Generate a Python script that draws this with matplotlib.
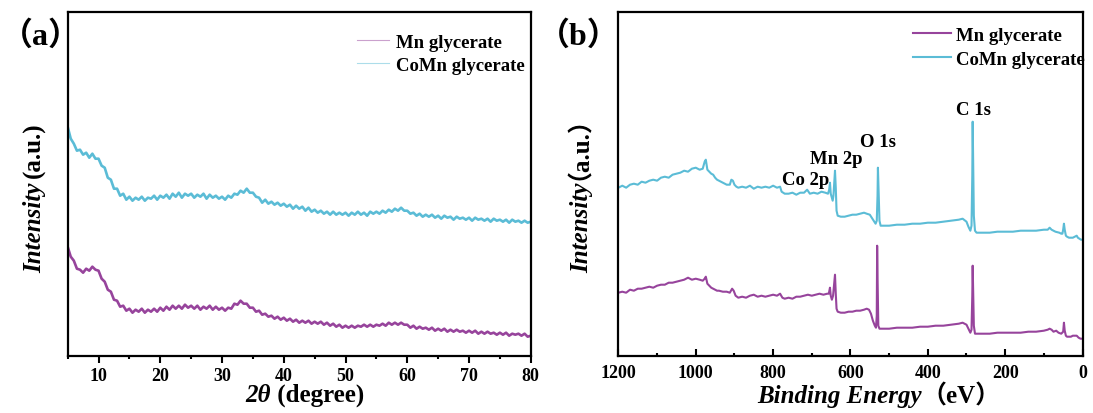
import numpy as np
import matplotlib
matplotlib.use("Agg")
import matplotlib.pyplot as plt
from matplotlib.lines import Line2D
from matplotlib.ticker import MultipleLocator

plt.rcParams["font.family"] = ["Liberation Serif", "Noto Sans CJK SC"]
plt.rcParams["font.weight"] = "bold"

PURPLE = "#97449c"
CYAN = "#5bbcd6"

# ---- (a) XRD, 2theta from 5 to 80 in 0.5 deg steps ----
two_theta = np.arange(5, 80.01, 0.5)

xrd_comn = [
    229, 217, 212, 205, 206, 201, 203, 198, 202, 197,
    197, 190, 188, 178, 176, 167, 167, 160, 162, 156,
    159, 155, 158, 156, 159, 155, 158, 157, 160, 156,
    160, 158, 161, 157, 162, 159, 163, 158, 162, 160,
    162, 158, 161, 159, 162, 157, 161, 158, 160, 157,
    159, 156, 160, 158, 162, 161, 165, 163, 167, 163,
    163, 159, 158, 153, 156, 152, 154, 151, 153, 150,
    152, 149, 151, 147, 150, 147, 149, 145, 148, 144,
    146, 143, 145, 142, 144, 141, 144, 141, 143, 141,
    143, 140, 143, 141, 144, 141, 143, 140, 144, 142,
    144, 142, 145, 143, 146, 144, 147, 145, 148, 145,
    145, 142, 143, 140, 142, 139, 141, 139, 141, 138,
    140, 137, 140, 138, 139, 136, 139, 137, 138, 136,
    138, 135, 138, 136, 137, 135, 137, 134, 137, 135,
    136, 134, 136, 133, 136, 134, 135, 133, 135, 133,
    134,
]

xrd_mn = [
    109, 99, 95, 87, 86, 83, 87, 85, 89, 86,
    85, 77, 74, 66, 64, 56, 55, 49, 50, 45,
    47, 43, 46, 44, 47, 43, 46, 44, 47, 44,
    48, 45, 49, 46, 50, 47, 50, 47, 51, 48,
    50, 47, 50, 46, 49, 47, 50, 46, 49, 46,
    48, 45, 48, 47, 52, 51, 55, 52, 52, 48,
    48, 44, 45, 41, 42, 39, 40, 37, 39, 36,
    38, 35, 37, 34, 36, 33, 35, 33, 35, 32,
    34, 32, 34, 31, 33, 30, 32, 29, 31, 28,
    30, 28, 30, 28, 30, 29, 31, 29, 31, 29,
    31, 30, 32, 30, 33, 31, 33, 31, 33, 31,
    31, 28, 30, 27, 29, 27, 28, 26, 28, 25,
    27, 25, 27, 24, 26, 24, 26, 24, 25, 23,
    25, 23, 25, 22, 24, 22, 24, 22, 23, 21,
    23, 21, 23, 20, 22, 21, 22, 20, 22, 19,
    20,
]

# ---- (b) XPS survey ----
be_comn = [1200, 1190, 1180, 1170, 1160, 1150, 1140, 1130, 1120, 1110, 1100, 1090, 1080, 1070,
           1060, 1050, 1040, 1030, 1020, 1010, 1000, 990, 982, 977, 974, 970, 965, 960, 955,
           950, 945, 940, 935, 930, 925, 920, 912, 908, 904, 900, 895, 890, 880, 870, 860,
           850, 840, 830, 820, 810, 800, 790, 782, 778, 770, 760, 750, 740, 730, 720, 712,
           705, 695, 685, 675, 665, 658, 655, 653, 651, 648, 646, 644, 642, 640, 638, 636,
           633, 625, 615, 605, 595, 585, 575, 565, 558, 550, 545, 540, 535, 532, 530, 529,
           527, 525, 522, 515, 500, 480, 460, 440, 420, 400, 380, 360, 340, 320, 310, 300,
           295, 290, 287, 285, 284, 283, 281, 278, 274, 260, 240, 220, 200, 180, 160, 140,
           120, 100, 90, 85, 80, 70, 60, 55, 52, 50, 48, 46, 43, 40, 35, 30, 25, 20, 15, 12,
           8, 4, 0]
xps_comn = [168, 170, 168, 171, 172, 171, 174, 173, 175, 176, 175, 178, 179, 178,
            181, 182, 183, 185, 184, 187, 188, 186, 187, 194, 196, 186, 184, 182, 181,
            178, 176, 175, 174, 173, 172, 171, 171, 176, 175, 171, 169, 168, 169, 168, 170,
            167, 169, 168, 169, 168, 170, 168, 169, 164, 162, 162, 163, 161, 163, 163, 166,
            162, 163, 162, 164, 163, 162, 166, 173, 162, 158, 155, 160, 173, 185, 168, 145,
            140, 139, 139, 140, 141, 141, 142, 143, 142, 141, 138, 135, 132, 135, 160, 188,
            160, 135, 130, 130, 130, 131, 131, 132, 132, 133, 133, 134, 135, 136, 137, 134,
            129, 125, 130, 180, 234, 200, 140, 125, 123, 123, 123, 124, 124, 124, 125, 125,
            125, 126, 126, 128, 126, 124, 123, 122, 122, 126, 132, 126, 120, 119, 118, 118, 118, 119, 120, 118,
            117, 116, 116]

be_mn = [1200, 1190, 1180, 1170, 1160, 1150, 1140, 1130, 1120, 1110, 1100, 1090, 1080, 1070,
         1060, 1050, 1040, 1030, 1020, 1010, 1000, 990, 982, 977, 974, 970, 965, 960, 955,
         950, 945, 940, 930, 920, 912, 906, 902, 897, 890, 880, 870, 860, 850, 840, 830,
         820, 810, 800, 790, 782, 776, 770, 760, 750, 740, 730, 720, 710, 700, 690, 680,
         670, 660, 656, 653, 651, 648, 645, 642, 640, 638, 636, 633, 625, 615, 605, 595,
         585, 575, 565, 558, 552, 547, 542, 537, 534, 532, 531, 530, 528, 525, 515, 500,
         480, 460, 440, 420, 400, 380, 360, 340, 320, 310, 300, 295, 290, 287, 285, 284,
         283, 281, 278, 274, 260, 240, 220, 200, 180, 160, 140, 120, 100, 90, 85, 80, 75,
         68, 62, 55, 50, 48, 46, 43, 40, 35, 30, 25, 20, 15, 10, 5, 0]
xps_mn = [63, 64, 63, 66, 65, 67, 67, 68, 69, 68, 70, 71, 71, 73,
          73, 74, 75, 76, 78, 76, 77, 76, 75, 77, 79, 72, 70, 68, 67,
          66, 65, 65, 64, 64, 63, 67, 65, 60, 58, 59, 58, 60, 61, 59, 60,
          59, 60, 61, 60, 62, 58, 57, 58, 57, 59, 59, 60, 61, 60, 61, 62,
          61, 62, 62, 68, 60, 56, 60, 72, 81, 62, 47, 44, 43, 43, 44, 44,
          45, 45, 46, 47, 46, 42, 35, 30, 28, 40, 110, 80, 30, 27, 27, 27,
          28, 28, 28, 29, 29, 30, 30, 31, 32, 33, 31, 27, 23, 26, 60, 90,
          70, 30, 22, 22, 22, 22, 23, 23, 23, 23, 24, 24, 25, 26, 27, 26, 24,
          25, 23, 22, 24, 33, 25, 20, 19, 19, 19, 20, 20, 20, 18, 17, 17]

peak_labels = ["Co 2p", "Mn 2p", "O 1s", "C 1s"]
peak_be = [715, 637, 529, 283]
peak_y = [176, 197, 214, 246]

fig = plt.figure(figsize=(10.93, 4.14), dpi=100)
ax1 = fig.add_axes([0.0619, 0.1384, 0.4237, 0.8295])
ax2 = fig.add_axes([0.5658, 0.1384, 0.4246, 0.8295])

ax1.plot(two_theta, xrd_mn, color=PURPLE, lw=1.9)
ax1.plot(two_theta, xrd_comn, color=CYAN, lw=1.9)
ax1.set_xlim(5, 80)
ax1.set_ylim(0, 343.4)

ax2.plot(be_mn, xps_mn, color=PURPLE, lw=1.5)
ax2.plot(be_comn, xps_comn, color=CYAN, lw=1.5)
ax2.set_xlim(1200, 0)
ax2.set_ylim(0, 343.4)

for ax in (ax1, ax2):
    for s in ax.spines.values():
        s.set_linewidth(1.6)
    ax.tick_params(axis="y", left=False, labelleft=False)
    ax.tick_params(axis="x", which="both", width=1.5, labelsize=13, pad=3)
    ax.tick_params(axis="x", which="major", length=5)
    ax.tick_params(axis="x", which="minor", length=2.5)

ax1.xaxis.set_major_locator(MultipleLocator(10))
ax1.xaxis.set_minor_locator(MultipleLocator(5))
ax1.tick_params(axis="x", which="both", direction="out")
ax2.xaxis.set_major_locator(MultipleLocator(200))
ax2.xaxis.set_minor_locator(MultipleLocator(100))
ax2.tick_params(axis="x", which="both", direction="in", pad=6)

leg_font = {"weight": "bold", "size": 13.5}
h1 = [Line2D([], [], color=PURPLE, lw=0.8, alpha=0.5), Line2D([], [], color=CYAN, lw=0.8, alpha=0.5)]
ax1.legend(h1, ["Mn glycerate", "CoMn glycerate"], loc="upper left", bbox_to_anchor=(0.625, 0.937),
           frameon=False, borderpad=0, borderaxespad=0, handlelength=1.7, handletextpad=0.4,
           labelspacing=0.3, prop=leg_font)
h2 = [Line2D([], [], color=PURPLE, lw=1.5), Line2D([], [], color=CYAN, lw=1.5)]
ax2.legend(h2, ["Mn glycerate", "CoMn glycerate"], loc="upper left", bbox_to_anchor=(0.635, 0.958),
           frameon=False, borderpad=0, borderaxespad=0, handlelength=2.0, handletextpad=0.3,
           labelspacing=0.35, prop=leg_font)

for lab, xb, yb in zip(peak_labels, peak_be, peak_y):
    ax2.text(xb, yb, lab, ha="center", va="center", fontsize=13.5, weight="bold")


def xlabel2(ax, x0, y0, first, second, size, dx=0, dy=0):
    t1 = ax.text(x0, y0, first, transform=ax.transAxes, ha="left", va="baseline",
                 style="italic", weight="bold", fontsize=size)
    ax.annotate(second, xy=(1.0, y0), xycoords=(t1, "axes fraction"), xytext=(dx, dy),
                textcoords="offset points", ha="left", va="baseline",
                weight="bold", fontsize=size, annotation_clip=False)


def ylabel2(ax, x0, y0, first, second, size, dx=0, dy=0):
    # rotated text: the second part is nudged by hand (dx, dy in points)
    t1 = ax.text(x0, y0, first, transform=ax.transAxes, ha="left", va="baseline", rotation=90,
                 rotation_mode="anchor", style="italic", weight="bold", fontsize=size)
    ax.annotate(second, xy=(x0, 1.0), xycoords=("axes fraction", t1), xytext=(dx, dy),
                textcoords="offset points", ha="left", va="baseline",
                rotation=90, rotation_mode="anchor", weight="bold", fontsize=size,
                annotation_clip=False)


xlabel2(ax1, 0.383, -0.132, "2θ", " (degree)", 18)
ylabel2(ax1, -0.058, 0.244, "Intensity", "(a.u.)", 18, dx=0, dy=3.5)
xlabel2(ax2, 0.299, -0.135, "Binding Energy", "（eV）", 18)
ylabel2(ax2, -0.0655, 0.244, "Intensity", "（a.u.）", 18, dx=-10, dy=2)

fig.text(0.001, 0.911, "（a）", fontsize=23, weight="bold", va="center", ha="left")
fig.text(0.492, 0.911, "（b）", fontsize=23, weight="bold", va="center", ha="left")

fig.savefig("out.png", dpi=100)
